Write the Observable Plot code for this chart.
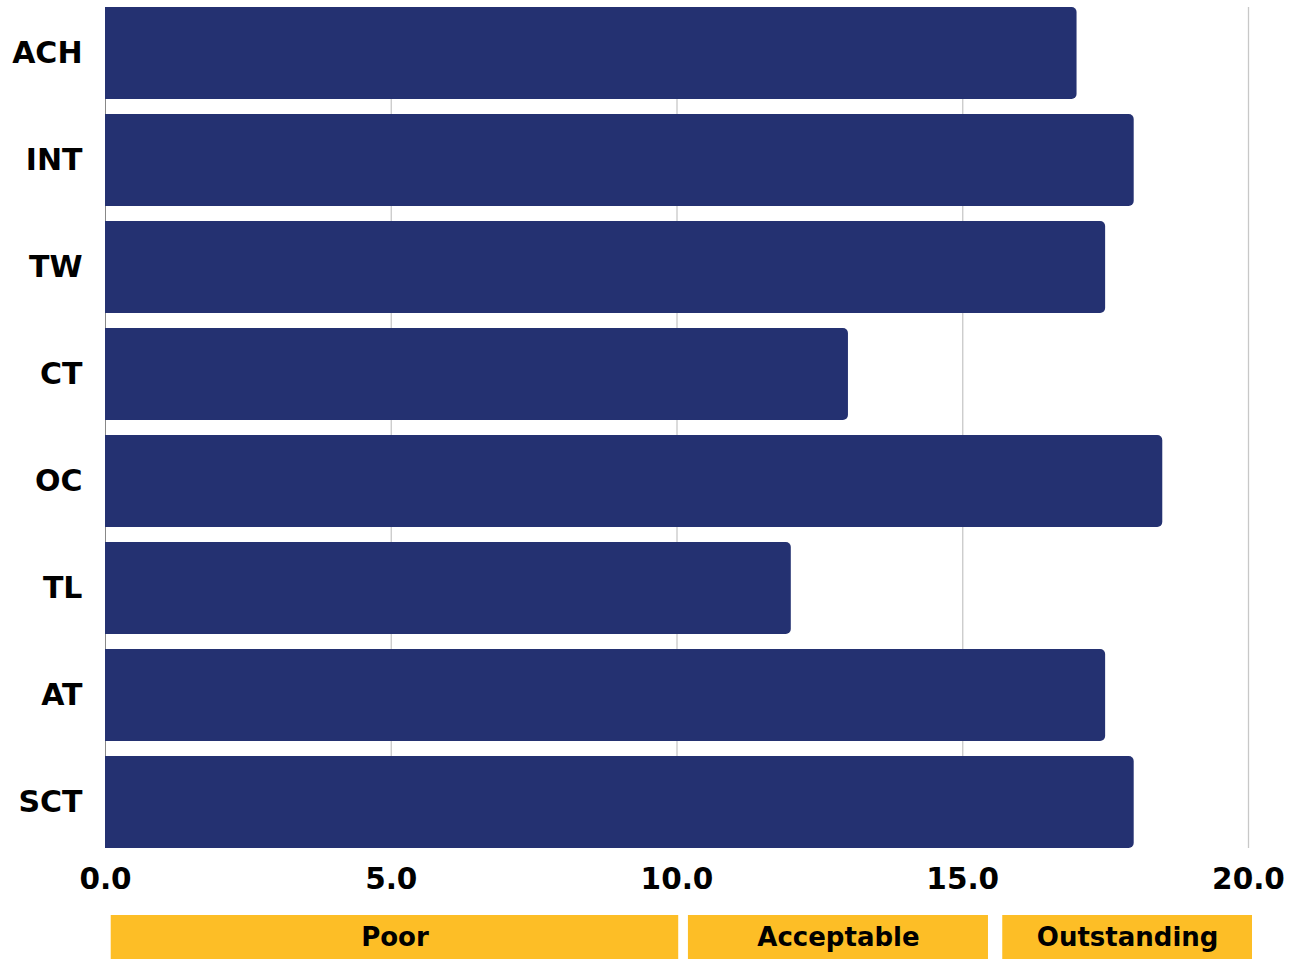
<!DOCTYPE html>
<html>
<head>
<meta charset="utf-8">
<script src="https://cdn.jsdelivr.net/npm/d3@7"></script>
<script src="https://cdn.jsdelivr.net/npm/@observablehq/plot@0.6"></script>
<style>
  html, body { margin: 0; padding: 0; background: #fff; }
  #chart svg { display: block; }
</style>
</head>
<body>
<div id="chart"></div>
<script>
const categories = ["ACH", "INT", "TW", "CT", "OC", "TL", "AT", "SCT"];
const scores = [17.0, 18.0, 17.5, 13.0, 18.5, 12.0, 17.5, 18.0];
const xTicks = [0, 5, 10, 15, 20];
const bandLabels = ["Poor", "Acceptable", "Outstanding"];
const bandStart = [0.1, 10.2, 15.7];
const bandEnd = [10.03, 15.45, 20.07];

const barColor = "#243171";
const gold = "#FDBE26";
const font = "'DejaVu Sans', sans-serif";

const data = categories.map((c, i) => ({category: c, score: scores[i]}));
const bands = bandLabels.map((l, i) => ({label: l, start: bandStart[i], end: bandEnd[i]}));

const W = 1291;

const main = Plot.plot({
  width: W,
  height: 905,
  marginLeft: 105,
  marginRight: 43,
  marginTop: 7,
  marginBottom: 57,
  style: {fontFamily: font, background: "#fff"},
  x: {domain: [0, 20], ticks: xTicks, tickFormat: d3.format(".1f"), label: null},
  y: {domain: categories, paddingInner: 0.14, paddingOuter: 0, round: false, label: null},
  marks: [
    Plot.ruleX(xTicks.filter(d => d > 0), {stroke: "#c8c8c8", strokeWidth: 1.3, strokeOpacity: 1}),
    Plot.ruleX([0], {stroke: "#888", strokeWidth: 1}),
    Plot.barX(data, {x: "score", y: "category", fill: barColor, rx: 5, insetLeft: -10, clip: true}),
    Plot.axisX({ticks: xTicks, tickFormat: d3.format(".1f"), tickSize: 0, tickPadding: 20,
      fontSize: 29.5, fontWeight: "bold", fill: "#000", label: null}),
    Plot.axisY({tickSize: 0, tickPadding: 23, fontSize: 30, fontWeight: "bold", fill: "#000", label: null})
  ]
});

const legend = Plot.plot({
  width: W,
  height: 54,
  marginLeft: 105,
  marginRight: 43,
  marginTop: 10,
  marginBottom: 0,
  style: {fontFamily: font, background: "#fff", overflow: "visible"},
  x: {domain: [0, 20], axis: null},
  y: {axis: null},
  marks: [
    Plot.rectX(bands, {x1: "start", x2: "end", fill: gold}),
    Plot.text(bands, {x: d => (d.start + d.end) / 2, text: "label", frameAnchor: "middle",
      fontSize: 26, fontWeight: "bold", fill: "#000"})
  ]
});

document.getElementById("chart").append(main, legend);
</script>
</body>
</html>
